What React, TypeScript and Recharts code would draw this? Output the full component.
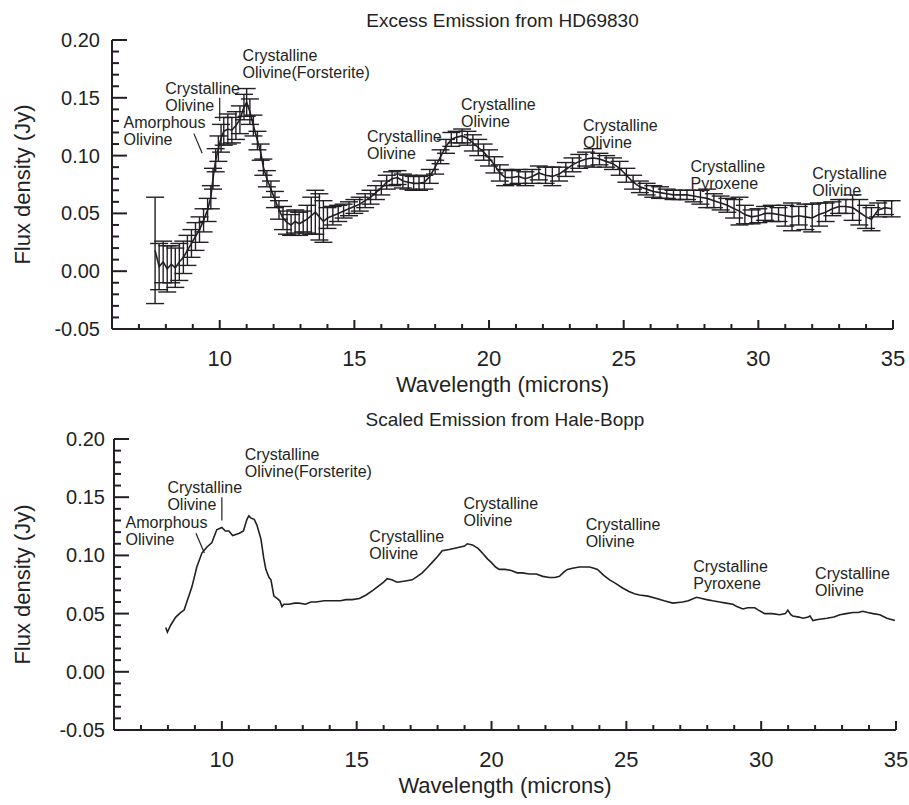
import { ComposedChart, Line, XAxis, YAxis, ErrorBar, ReferenceDot, ReferenceLine, Label } from 'recharts'

const INK = '#231f24'
const FONT = '"Liberation Sans", Arial, Helvetica, sans-serif'
const W = 909

// HD69830 excess emission (microns, Jy, 1-sigma)
const hdWave = [
  7.6, 7.75, 7.9, 8.05, 8.2, 8.35, 8.5, 8.65, 8.8, 8.95, 9.1, 9.25, 9.4, 9.55, 9.67, 9.75, 9.85, 9.95,
  10.05, 10.15, 10.3, 10.45, 10.6, 10.75, 10.9, 11.0, 11.12, 11.25, 11.4, 11.52, 11.62, 11.75, 11.9,
  12.05, 12.2, 12.35, 12.5, 12.65, 12.8, 12.95, 13.1, 13.25, 13.4, 13.55, 13.7, 13.85, 14.0, 14.2,
  14.4, 14.6, 14.8, 15.0, 15.2, 15.4, 15.6, 15.8, 16.0, 16.2, 16.4, 16.6, 16.8, 17.0, 17.2, 17.4,
  17.6, 17.8, 18.0, 18.2, 18.4, 18.6, 18.8, 19.0, 19.2, 19.4, 19.6, 19.8, 20.0, 20.2, 20.4, 20.6,
  20.85, 21.1, 21.35, 21.6, 21.85, 22.1, 22.35, 22.6, 22.85, 23.1, 23.35, 23.6, 23.85, 24.1, 24.35,
  24.6, 24.85, 25.1, 25.35, 25.6, 25.85, 26.1, 26.35, 26.6, 26.85, 27.1, 27.35, 27.6, 27.85, 28.1,
  28.35, 28.6, 28.85, 29.1, 29.3, 29.5, 29.75, 30.0, 30.25, 30.5, 30.75, 31.0, 31.25, 31.5, 31.75,
  32.0, 32.25, 32.5, 32.75, 33.0, 33.25, 33.5, 33.75, 34.0, 34.2, 34.45, 34.7, 34.95,
]
const hdFlux = [
  0.018, 0.004, 0.008, 0.002, 0.006, 0.003, 0.008, 0.012, 0.018, 0.024, 0.03, 0.036, 0.044, 0.053, 0.064, 0.08, 0.096, 0.106,
  0.115, 0.121, 0.123, 0.122, 0.126, 0.131, 0.142, 0.146, 0.138, 0.126, 0.113, 0.103, 0.09, 0.08, 0.071,
  0.062, 0.053, 0.046, 0.042, 0.04, 0.043, 0.041, 0.043, 0.045, 0.048, 0.051, 0.047, 0.043, 0.046, 0.048,
  0.05, 0.052, 0.054, 0.056, 0.058, 0.061, 0.064, 0.068, 0.072, 0.077, 0.08, 0.081, 0.078, 0.077, 0.076, 0.076,
  0.077, 0.082, 0.09, 0.099, 0.108, 0.114, 0.116, 0.117, 0.115, 0.111, 0.107, 0.103, 0.098, 0.092, 0.085, 0.081,
  0.081, 0.082, 0.08, 0.082, 0.085, 0.083, 0.082, 0.084, 0.088, 0.092, 0.095, 0.097, 0.098, 0.097, 0.095,
  0.093, 0.089, 0.083, 0.077, 0.073, 0.071, 0.069, 0.068, 0.067, 0.066, 0.066, 0.066, 0.065, 0.064, 0.063,
  0.061, 0.059, 0.057, 0.054, 0.052, 0.049, 0.047, 0.048, 0.05, 0.05, 0.049, 0.048, 0.047, 0.048, 0.047,
  0.046, 0.049, 0.051, 0.054, 0.056, 0.056, 0.055, 0.051, 0.047, 0.045, 0.053, 0.055, 0.054,
]
const hdErr = [
  0.046, 0.02, 0.018, 0.02, 0.016, 0.017, 0.016, 0.014, 0.013, 0.012, 0.012, 0.011, 0.01, 0.01, 0.01, 0.009, 0.01, 0.011,
  0.012, 0.012, 0.013, 0.011, 0.012, 0.012, 0.011, 0.012, 0.011, 0.009, 0.008, 0.007, 0.007, 0.007, 0.007,
  0.007, 0.008, 0.01, 0.01, 0.009, 0.01, 0.01, 0.009, 0.012, 0.016, 0.019, 0.02, 0.018, 0.009, 0.008,
  0.007, 0.006, 0.006, 0.006, 0.006, 0.006, 0.006, 0.006, 0.006, 0.006, 0.006, 0.006, 0.006, 0.006, 0.006, 0.006,
  0.006, 0.006, 0.006, 0.006, 0.006, 0.006, 0.005, 0.006, 0.006, 0.007, 0.007, 0.007, 0.007, 0.007, 0.007, 0.007,
  0.006, 0.006, 0.006, 0.006, 0.006, 0.007, 0.008, 0.006, 0.006, 0.006, 0.006, 0.006, 0.008, 0.005, 0.005,
  0.005, 0.006, 0.006, 0.006, 0.005, 0.005, 0.005, 0.005, 0.004, 0.004, 0.004, 0.004, 0.005, 0.006, 0.008,
  0.006, 0.006, 0.006, 0.008, 0.012, 0.008, 0.006, 0.006, 0.006, 0.007, 0.006, 0.009, 0.012, 0.008, 0.011,
  0.012, 0.01, 0.008, 0.006, 0.006, 0.006, 0.011, 0.011, 0.01, 0.01, 0.006, 0.006, 0.007,
]

// Hale-Bopp scaled emission
const hbWave = [
  7.92, 7.98, 8.1, 8.29, 8.48, 8.6, 8.7, 8.89, 9.07, 9.26, 9.44, 9.63, 9.81, 10.0, 10.13, 10.26, 10.4,
  10.52, 10.65, 10.8, 10.93, 11.0, 11.08, 11.2, 11.3, 11.45, 11.55, 11.63, 11.75, 11.82, 11.93, 12.05,
  12.15, 12.23, 12.3, 12.49, 12.7, 12.86, 13.1, 13.3, 13.49, 13.8, 14.09, 14.4, 14.6, 14.83, 15.1,
  15.35, 15.6, 15.83, 16.0, 16.13, 16.3, 16.5, 16.8, 17.06, 17.25, 17.43, 17.6, 17.8, 18.0, 18.17,
  18.43, 18.6, 18.8, 19.0, 19.1, 19.29, 19.5, 19.66, 19.85, 19.99, 20.15, 20.29, 20.5, 20.73, 20.95,
  21.14, 21.4, 21.66, 21.9, 22.15, 22.35, 22.52, 22.7, 22.82, 23.0, 23.26, 23.45, 23.63, 23.8, 23.93,
  24.15, 24.38, 24.6, 24.86, 25.1, 25.3, 25.49, 25.8, 26.12, 26.4, 26.72, 27.09, 27.3, 27.6, 27.8,
  27.98, 28.2, 28.46, 28.7, 28.95, 29.1, 29.32, 29.5, 29.76, 29.9, 30.13, 30.4, 30.69, 30.9, 30.99,
  31.1, 31.17, 31.4, 31.55, 31.75, 31.81, 31.92, 32.1, 32.44, 32.7, 32.92, 33.15, 33.4, 33.6, 33.77,
  33.95, 34.15, 34.4, 34.66, 34.96,
]
const hbFlux = [
  0.038, 0.034, 0.04, 0.047, 0.051, 0.053, 0.06, 0.073, 0.09, 0.102, 0.107, 0.111, 0.122, 0.124, 0.121, 0.121, 0.117,
  0.118, 0.119, 0.121, 0.131, 0.134, 0.132, 0.131, 0.126, 0.114, 0.098, 0.088, 0.081, 0.079, 0.065, 0.063,
  0.061, 0.056, 0.058, 0.058, 0.059, 0.059, 0.058, 0.06, 0.06, 0.061, 0.061, 0.061, 0.062, 0.062, 0.063,
  0.066, 0.07, 0.074, 0.077, 0.08, 0.079, 0.077, 0.078, 0.079, 0.082, 0.085, 0.089, 0.094, 0.099, 0.104,
  0.105, 0.106, 0.107, 0.108, 0.11, 0.109, 0.106, 0.102, 0.097, 0.094, 0.09, 0.088, 0.088, 0.087, 0.085,
  0.085, 0.084, 0.084, 0.082, 0.081, 0.081, 0.082, 0.086, 0.088, 0.089, 0.09, 0.09, 0.09, 0.089, 0.088,
  0.083, 0.079, 0.076, 0.072, 0.069, 0.067, 0.066, 0.065, 0.063, 0.061, 0.059, 0.06, 0.061, 0.064, 0.063,
  0.062, 0.061, 0.06, 0.059, 0.058, 0.056, 0.054, 0.055, 0.055, 0.053, 0.05, 0.05, 0.049, 0.05, 0.053,
  0.049, 0.048, 0.047, 0.046, 0.047, 0.048, 0.044, 0.045, 0.046, 0.047, 0.049, 0.05, 0.051, 0.051, 0.052,
  0.051, 0.05, 0.049, 0.046, 0.044,
]

const xTicks = [7, 8, 9, 10, 11, 12, 13, 14, 15, 16, 17, 18, 19, 20, 21, 22, 23, 24, 25, 26, 27, 28, 29, 30, 31, 32, 33, 34, 35]
const xMajor = [10, 15, 20, 25, 30, 35]
const yTicks = [
  -0.05, -0.04, -0.03, -0.02, -0.01, 0, 0.01, 0.02, 0.03, 0.04, 0.05, 0.06, 0.07, 0.08, 0.09,
  0.1, 0.11, 0.12, 0.13, 0.14, 0.15, 0.16, 0.17, 0.18, 0.19, 0.2,
]
const yMajor = [-0.05, 0, 0.05, 0.1, 0.15, 0.2]

// feature labels, anchored at (wavelength, flux) of their first line
const noteX = [6.43, 7.98, 10.85, 15.47, 18.96, 23.49, 27.48, 32.0]
const noteY = [0.128, 0.158, 0.186, 0.116, 0.144, 0.126, 0.09, 0.084]
const noteLines = [
  ['Amorphous', 'Olivine'],
  ['Crystalline', 'Olivine'],
  ['Crystalline', 'Olivine(Forsterite)'],
  ['Crystalline', 'Olivine'],
  ['Crystalline', 'Olivine'],
  ['Crystalline', 'Olivine'],
  ['Crystalline', 'Pyroxene'],
  ['Crystalline', 'Olivine'],
]
// pointer strokes for the two short-wavelength labels
const pointerFrom = [{ x: 9.04, y: 0.119 }, { x: 10.0, y: 0.15 }]
const pointerTo = [{ x: 9.35, y: 0.102 }, { x: 10.0, y: 0.13 }]

const hdRows = hdWave.map((x, i) => ({ x, y: hdFlux[i], err: hdErr[i] }))
const hbRows = hbWave.map((x, i) => ({ x, y: hbFlux[i] }))

const isMajorY = (v: number) => yMajor.some((m) => Math.abs(m - v) < 1e-6)

// ticks point into the plot; the axis edge is passed in as `at`
function BottomTick({ x, payload, at }: any) {
  const v = payload.value
  const major = xMajor.includes(v)
  return (
    <g>
      <line x1={x} y1={at} x2={x} y2={at - (major ? 9 : 5)} stroke={INK} strokeWidth={2} />
      {major && (
        <text x={x} y={at + 29} textAnchor='middle' dominantBaseline='central' fontSize={22} fontFamily={FONT} fill={INK}>
          {v}
        </text>
      )}
    </g>
  )
}

function TopTick({ x, payload, at }: any) {
  const major = xMajor.includes(payload.value)
  return <line x1={x} y1={at} x2={x} y2={at + (major ? 9 : 5)} stroke={INK} strokeWidth={2} />
}

function LeftTick({ y, payload, at, gap }: any) {
  const v = payload.value
  const major = isMajorY(v)
  return (
    <g>
      <line x1={at} y1={y} x2={at + (major ? 15 : 7)} y2={y} stroke={INK} strokeWidth={2} />
      {major && (
        <text x={at - gap} y={y} textAnchor='end' dominantBaseline='central' fontSize={20} fontFamily={FONT} fill={INK}>
          {v.toFixed(2)}
        </text>
      )}
    </g>
  )
}

function RightTick({ y, payload, at }: any) {
  const major = isMajorY(payload.value)
  return <line x1={at} y1={y} x2={at - (major ? 15 : 8)} y2={y} stroke={INK} strokeWidth={2} />
}

function NoteText({ cx, cy, lines }: any) {
  return (
    <text x={cx} y={cy + 5} fontSize={16} fontFamily={FONT} fill={INK}>
      {lines.map((s: string, i: number) => (
        <tspan key={i} x={cx} dy={i === 0 ? 0 : 17}>{s}</tspan>
      ))}
    </text>
  )
}

function Panel({ title, height, top, right, yWidth, xHeight, gap, children, data }: any) {
  const left = yWidth
  const rightEdge = W - right
  const bottom = height - xHeight
  const midX = (left + rightEdge) / 2
  return (
    <ComposedChart width={W} height={height} data={data} margin={{ top, right, bottom: 0, left: 0 }}>
      <XAxis
        xAxisId='b' dataKey='x' type='number' domain={[6, 35]} ticks={xTicks} interval={0}
        height={xHeight} tick={<BottomTick at={bottom} />} tickLine={false}
        axisLine={{ stroke: INK, strokeWidth: 2 }} allowDataOverflow
      >
        <Label
          content={() => (
            <g>
              <text x={midX} y={bottom + 55} textAnchor='middle' dominantBaseline='central'
                fontSize={22} fontFamily={FONT} fill={INK}>
                Wavelength (microns)
              </text>
              <text x={midX} y={top - 20} textAnchor='middle' dominantBaseline='central'
                fontSize={19} fontFamily={FONT} fill={INK}>
                {title}
              </text>
            </g>
          )}
        />
      </XAxis>
      <XAxis
        xAxisId='t' orientation='top' type='number' domain={[6, 35]} ticks={xTicks} interval={0}
        height={0} tick={<TopTick at={top} />} tickLine={false}
        axisLine={{ stroke: INK, strokeWidth: 2 }} allowDataOverflow
      />
      <YAxis
        yAxisId='l' type='number' domain={[-0.05, 0.2]} ticks={yTicks} interval={0} width={yWidth}
        tick={<LeftTick at={left} gap={gap} />} tickLine={false}
        axisLine={{ stroke: INK, strokeWidth: 2 }} allowDataOverflow
      >
        <Label
          content={() => {
            const cx = 22
            const cy = (top + bottom) / 2
            return (
              <text x={cx} y={cy} transform={`rotate(-90 ${cx} ${cy})`} textAnchor='middle' dominantBaseline='central'
                fontSize={22} fontFamily={FONT} fill={INK}>
                Flux density (Jy)
              </text>
            )
          }}
        />
      </YAxis>
      <YAxis
        yAxisId='r' orientation='right' type='number' domain={[-0.05, 0.2]} ticks={yTicks} interval={0} width={0}
        tick={<RightTick at={rightEdge} />} tickLine={false}
        axisLine={{ stroke: INK, strokeWidth: 2 }} allowDataOverflow
      />
      {children}
      {noteX.map((x, i) => (
        <ReferenceDot
          key={`n${i}`} xAxisId='b' yAxisId='l' x={x} y={noteY[i]} r={0} ifOverflow='visible'
          shape={(p: any) => <NoteText cx={p.cx} cy={p.cy} lines={noteLines[i]} />}
        />
      ))}
      {pointerFrom.map((a, i) => (
        <ReferenceLine
          key={`p${i}`} xAxisId='b' yAxisId='l' segment={[a, pointerTo[i]]} stroke={INK} strokeWidth={1.2}
          ifOverflow='visible'
        />
      ))}
    </ComposedChart>
  )
}

export default function App() {
  return (
    <div style={{ position: 'absolute', left: 0, top: 0, width: W, height: 805, background: '#fff' }}>
      <Panel title='Excess Emission from HD69830' height={400} top={40} right={16} yWidth={112} xHeight={71} gap={12} data={hdRows}>
        <Line
          xAxisId='b' yAxisId='l' dataKey='y' type='linear' stroke={INK} strokeWidth={1.6} dot={false}
          isAnimationActive={false}
        >
          <ErrorBar dataKey='err' width={9} stroke={INK} strokeWidth={1.4} direction='y' />
        </Line>
      </Panel>
      <Panel title='Scaled Emission from Hale-Bopp' height={405} top={39} right={13} yWidth={114} xHeight={75} gap={9} data={hbRows}>
        <Line
          xAxisId='b' yAxisId='l' dataKey='y' type='linear' stroke={INK} strokeWidth={1.6} dot={false}
          isAnimationActive={false}
        />
      </Panel>
    </div>
  )
}
